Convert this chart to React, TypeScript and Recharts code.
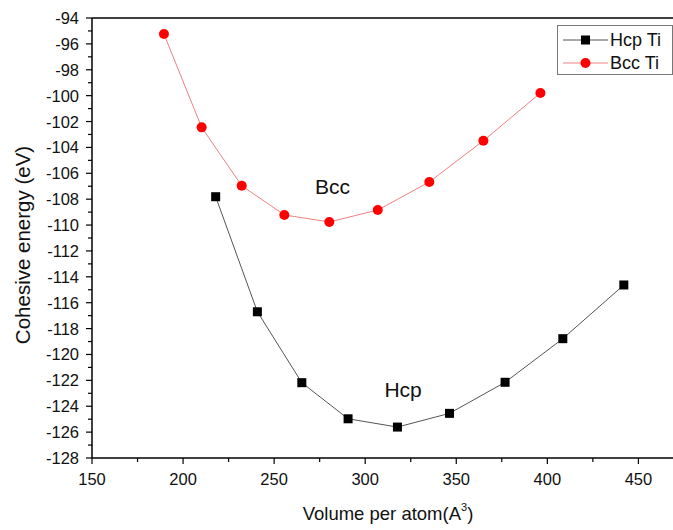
import React from "react";
import {
  LineChart,
  Line,
  XAxis,
  YAxis,
  Legend,
  ReferenceLine,
  ReferenceDot,
  Label,
} from "recharts";

// Hcp Ti: volume per atom (A^3) vs cohesive energy (eV)
const hcpVolume = [217.9, 240.8, 265.2, 290.6, 317.7, 346.3, 376.8, 408.5, 442.0];
const hcpEnergy = [-107.81, -116.7, -122.18, -124.97, -125.61, -124.55, -122.15, -118.78, -114.63];

// Bcc Ti
const bccVolume = [189.5, 210.2, 232.2, 255.6, 280.3, 306.9, 335.2, 364.9, 396.2];
const bccEnergy = [-95.24, -102.45, -106.96, -109.22, -109.76, -108.84, -106.67, -103.48, -99.8];

const xTicks = [150, 175, 200, 225, 250, 275, 300, 325, 350, 375, 400, 425, 450];
const yTicks = Array.from({ length: 35 }, (_, i) => -128 + i);

const hcpData = hcpVolume.map((v, i) => ({ volume: v, energy: hcpEnergy[i] }));
const bccData = bccVolume.map((v, i) => ({ volume: v, energy: bccEnergy[i] }));

const FONT = "'Liberation Sans', Arial, sans-serif";

const XTick = (props: any) => {
  const { x, y, payload } = props;
  const major = payload.value % 50 === 0;
  return (
    <g>
      <line x1={x} x2={x} y1={y} y2={y + (major ? 6 : 4)} stroke="#000" strokeWidth={1.2} />
      {major && (
        <text x={x} y={y + 21} textAnchor="middle" dominantBaseline="central" fontSize={16.5} fontFamily={FONT} fill="#111">
          {payload.value}
        </text>
      )}
    </g>
  );
};

const YTick = (props: any) => {
  const { x, y, payload } = props;
  const major = payload.value % 2 === 0;
  return (
    <g>
      <line x1={x} x2={x - (major ? 6 : 4)} y1={y} y2={y} stroke="#000" strokeWidth={1.2} />
      {major && (
        <text x={x - 13} y={y} textAnchor="end" dominantBaseline="central" fontSize={16.5} fontFamily={FONT} fill="#111">
          {payload.value}
        </text>
      )}
    </g>
  );
};

const SquareDot = (props: any) => {
  const { cx, cy, index } = props;
  return <rect key={`sq-${index}`} x={cx - 4.5} y={cy - 4.5} width={9} height={9} fill="#000" />;
};

const CircleDot = (props: any) => {
  const { cx, cy, index } = props;
  return <circle key={`ci-${index}`} cx={cx} cy={cy} r={5} fill="#f00" />;
};

const renderLegend = () => (
  <svg width={116} height={50} style={{ display: "block" }}>
    <rect x={0.5} y={0.5} width={115} height={49} fill="#fff" stroke="#777" />
    <line x1={6} x2={51} y1={15} y2={15} stroke="#555" />
    <rect x={24} y={10.5} width={9} height={9} fill="#000" />
    <text x={53} y={15} dominantBaseline="central" fontSize={18} fontFamily={FONT} fill="#111">
      Hcp Ti
    </text>
    <line x1={6} x2={51} y1={38} y2={38} stroke="#f08080" />
    <circle cx={28.5} cy={38} r={5} fill="#f00" />
    <text x={53} y={38} dominantBaseline="central" fontSize={18} fontFamily={FONT} fill="#111">
      Bcc Ti
    </text>
  </svg>
);

export default function App() {
  return (
    <div style={{ position: "absolute", left: 0, top: 0, background: "#fff", fontFamily: FONT }}>
      <LineChart width={673} height={530} margin={{ top: 18, right: 0, bottom: 0, left: 0 }}>
        <XAxis
          type="number"
          dataKey="volume"
          domain={[150, 469]}
          ticks={xTicks}
          interval={0}
          tickSize={0}
          tickMargin={0}
          tick={<XTick />}
          height={72}
          axisLine={{ stroke: "#000", strokeWidth: 1.5 }}
          allowDataOverflow
        >
          <Label
            position="insideBottom"
            offset={0}
            content={() => (
              <text x={388} y={520} textAnchor="middle" fontSize={18.5} fontFamily={FONT} fill="#111">
                Volume per atom(A
                <tspan fontSize={11} dy={-9}>3</tspan>
                <tspan dy={9}>)</tspan>
              </text>
            )}
          />
        </XAxis>
        <YAxis
          type="number"
          dataKey="energy"
          domain={[-128, -94]}
          ticks={yTicks}
          interval={0}
          tickSize={0}
          tickMargin={0}
          tick={<YTick />}
          width={92}
          axisLine={{ stroke: "#000", strokeWidth: 1.5 }}
          allowDataOverflow
        >
          <Label
            content={() => (
              <text
                x={22}
                y={245}
                transform="rotate(-90 22 245)"
                textAnchor="middle"
                dominantBaseline="central"
                fontSize={20.5}
                fontFamily={FONT}
                fill="#111"
              >
                Cohesive energy (eV)
              </text>
            )}
          />
        </YAxis>
        <ReferenceLine y={-94} stroke="#000" strokeWidth={1.5} />
        <Legend
          layout="horizontal"
          verticalAlign="middle"
          align="center"
          content={renderLegend}
          wrapperStyle={{ position: "absolute", left: 557, top: 25, width: 116, height: 50 }}
        />
        <Line
          data={hcpData}
          dataKey="energy"
          name="Hcp Ti"
          stroke="#555"
          strokeWidth={1}
          dot={<SquareDot />}
          activeDot={false}
          isAnimationActive={false}
        />
        <Line
          data={bccData}
          dataKey="energy"
          name="Bcc Ti"
          stroke="#f08080"
          strokeWidth={1}
          dot={<CircleDot />}
          activeDot={false}
          isAnimationActive={false}
        />
        <ReferenceDot
          x={282}
          y={-107.06}
          r={0}
          label={{ value: "Bcc", position: "center", fontSize: 21, fontFamily: FONT, fill: "#111" }}
        />
        <ReferenceDot
          x={320.8}
          y={-122.7}
          r={0}
          label={{ value: "Hcp", position: "center", fontSize: 21, fontFamily: FONT, fill: "#111" }}
        />
      </LineChart>
    </div>
  );
}
